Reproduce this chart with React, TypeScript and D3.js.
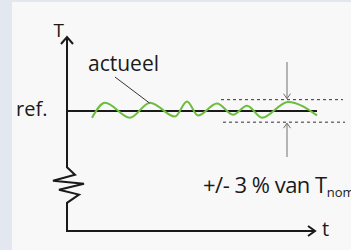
import React from "react";
import * as d3 from "d3";

// actual temperature trace: time (0..100) and deviation from ref in %
const waveTime = [10, 15.2, 25.2, 33.2, 43.2, 48, 52.4, 60, 66.4, 72, 78, 88.4, 100];
const waveDev = [-1.8, 2.2, -1.8, 2.2, -1.5, 2.5, -1.2, 2.0, -1.0, 1.4, -1.8, 2.4, -1.2];

// tolerance band (+/- 3 %)
const tolerance = [3, -3];
const bandStart = [61.6, 62.4];
const bandEnd = [110.4, 111.2];
const markerTime = 88;

// resistor zigzag on the T axis: [x offset in px, deviation]
const zigzag: [number, number][] = [
  [0, -15], [8, -17], [-14, -18.6], [17, -19.4], [-8, -21], [12, -22.3], [0, -24.5],
];

const labels = {
  yAxis: "T",
  xAxis: "t",
  ref: "ref.",
  actual: "actueel",
  band: "+/- 3 % van T",
  sub: "nom",
};

const W = 351;
const H = 250;

export default function App() {
  const x = d3.scaleLinear().domain([0, 100]).range([67, 317]);
  const y = d3.scaleLinear().domain([-32, 19.7]).range([231, 37]);

  const x0 = x(0);
  const yTop = y(19.7);
  const yBot = y(-32);
  const xEnd = x(99.2);

  const wave = d3
    .line<number>()
    .x((_, i) => x(waveTime[i]))
    .y((d) => y(d))
    .curve(d3.curveMonotoneX)(waveDev);

  const axisPath = d3
    .line<[number, number]>()
    .x((d) => x0 + d[0])
    .y((d) => y(d[1]))([[0, 19.7], ...zigzag, [0, -32]]);

  const font = "'Open Sans', sans-serif";
  const ink = "#1a1a1a";
  const gray = "#707070";
  const mx = x(markerTime);

  return (
    <svg
      width={W}
      height={H}
      style={{ position: "fixed", left: 0, top: 0 }}
      fontFamily={font}
    >
      <rect width={W} height={H} fill="#e3e8f0" />
      <rect x={12} y={2} width={W - 12} height={H - 2} fill="#f8f8f8" />

      {/* tolerance band */}
      {tolerance.map((t, i) => (
        <line
          key={i}
          x1={x(bandStart[i])}
          x2={x(bandEnd[i])}
          y1={y(t)}
          y2={y(t)}
          stroke="#333"
          strokeWidth={1}
          strokeDasharray="3,3"
        />
      ))}

      {/* axes with resistor */}
      <path d={axisPath ?? ""} fill="none" stroke={ink} strokeWidth={2} strokeLinejoin="miter" />
      <line x1={x0 - 1} x2={xEnd} y1={yBot} y2={yBot} stroke={ink} strokeWidth={2} />
      <path
        d={`M${x0 - 6},${yTop + 7}L${x0},${yTop}L${x0 + 6},${yTop + 7}`}
        fill="none"
        stroke={ink}
        strokeWidth={2}
      />
      <path
        d={`M${xEnd - 7},${yBot - 5}L${xEnd},${yBot}L${xEnd - 7},${yBot + 5}`}
        fill="none"
        stroke={ink}
        strokeWidth={2}
      />

      {/* reference line */}
      <line x1={x0} x2={x(100)} y1={y(0)} y2={y(0)} stroke={ink} strokeWidth={2} />

      {/* actual trace */}
      <path d={wave ?? ""} fill="none" stroke="#6cbd3c" strokeWidth={2} />

      {/* leader line */}
      <line x1={115} y1={77} x2={x(33)} y2={y(2.1)} stroke="#333" strokeWidth={1} />

      {/* band markers */}
      <line x1={mx} x2={mx} y1={62} y2={y(3) - 1} stroke={gray} strokeWidth={1} />
      <path
        d={`M${mx - 3.5},${y(3) - 6}L${mx},${y(3) - 1}L${mx + 3.5},${y(3) - 6}`}
        fill="none"
        stroke={gray}
        strokeWidth={1}
      />
      <line x1={mx} x2={mx} y1={157} y2={y(-3) + 1} stroke={gray} strokeWidth={1} />
      <path
        d={`M${mx - 3.5},${y(-3) + 6}L${mx},${y(-3) + 1}L${mx + 3.5},${y(-3) + 6}`}
        fill="none"
        stroke={gray}
        strokeWidth={1}
      />

      {/* text */}
      <text x={64} y={37} fontSize={19} textAnchor="end" fill={ink}>
        {labels.yAxis}
      </text>
      <text x={322} y={236} fontSize={20} fill={ink}>
        {labels.xAxis}
      </text>
      <text x={16} y={116} fontSize={20} fill={ink}>
        {labels.ref}
      </text>
      <text x={88} y={71} fontSize={21} fill={ink}>
        {labels.actual}
      </text>
      <text x={203} y={193} fontSize={22} fill={ink} letterSpacing={-0.5}>
        {labels.band}
        <tspan fontSize={13} dy={4} letterSpacing={0}>
          {labels.sub}
        </tspan>
      </text>
    </svg>
  );
}
